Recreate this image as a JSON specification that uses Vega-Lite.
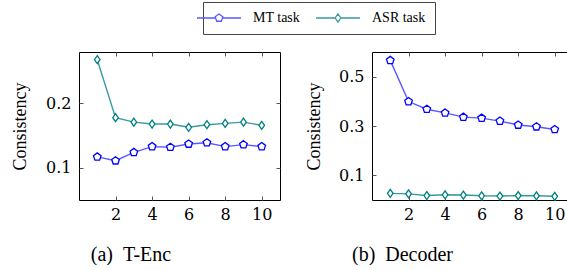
{
  "$schema": "https://vega.github.io/schema/vega-lite/v6.json",
  "background": "white",
  "padding": {"top": 1, "left": 11, "right": 0, "bottom": 0},
  "datasets": {
    "tenc": [
      {"series": "MT task", "layer": 1, "value": 0.117},
      {"series": "MT task", "layer": 2, "value": 0.111},
      {"series": "MT task", "layer": 3, "value": 0.124},
      {"series": "MT task", "layer": 4, "value": 0.133},
      {"series": "MT task", "layer": 5, "value": 0.132},
      {"series": "MT task", "layer": 6, "value": 0.137},
      {"series": "MT task", "layer": 7, "value": 0.139},
      {"series": "MT task", "layer": 8, "value": 0.133},
      {"series": "MT task", "layer": 9, "value": 0.136},
      {"series": "MT task", "layer": 10, "value": 0.133},
      {"series": "ASR task", "layer": 1, "value": 0.268},
      {"series": "ASR task", "layer": 2, "value": 0.178},
      {"series": "ASR task", "layer": 3, "value": 0.171},
      {"series": "ASR task", "layer": 4, "value": 0.168},
      {"series": "ASR task", "layer": 5, "value": 0.168},
      {"series": "ASR task", "layer": 6, "value": 0.163},
      {"series": "ASR task", "layer": 7, "value": 0.167},
      {"series": "ASR task", "layer": 8, "value": 0.169},
      {"series": "ASR task", "layer": 9, "value": 0.171},
      {"series": "ASR task", "layer": 10, "value": 0.166}
    ],
    "dec": [
      {"series": "MT task", "layer": 1, "value": 0.566},
      {"series": "MT task", "layer": 2, "value": 0.399},
      {"series": "MT task", "layer": 3, "value": 0.368},
      {"series": "MT task", "layer": 4, "value": 0.353},
      {"series": "MT task", "layer": 5, "value": 0.336},
      {"series": "MT task", "layer": 6, "value": 0.332},
      {"series": "MT task", "layer": 7, "value": 0.320},
      {"series": "MT task", "layer": 8, "value": 0.304},
      {"series": "MT task", "layer": 9, "value": 0.297},
      {"series": "MT task", "layer": 10, "value": 0.286},
      {"series": "ASR task", "layer": 1, "value": 0.027},
      {"series": "ASR task", "layer": 2, "value": 0.025},
      {"series": "ASR task", "layer": 3, "value": 0.018},
      {"series": "ASR task", "layer": 4, "value": 0.021},
      {"series": "ASR task", "layer": 5, "value": 0.020},
      {"series": "ASR task", "layer": 6, "value": 0.017},
      {"series": "ASR task", "layer": 7, "value": 0.016},
      {"series": "ASR task", "layer": 8, "value": 0.018},
      {"series": "ASR task", "layer": 9, "value": 0.017},
      {"series": "ASR task", "layer": 10, "value": 0.015}
    ]
  },
  "spacing": 24,
  "config": {
    "font": "'Liberation Serif', 'Times New Roman', serif",
    "view": {"stroke": "black", "strokeWidth": 1},
    "axis": {
      "labelFont": "'DejaVu Serif', serif",
      "labelFontSize": 16,
      "labelColor": "black",
      "titleFont": "'Liberation Serif', 'Times New Roman', serif",
      "titleFontWeight": "normal",
      "titleColor": "black",
      "gridColor": "#b8b8b8",
      "gridDash": [5, 4],
      "gridWidth": 1,
      "tickColor": "#555555",
      "tickSize": -4,
      "domain": false
    },
    "legend": {
      "labelFont": "'Liberation Serif', 'Times New Roman', serif"
    }
  },
  "hconcat": [
    {
      "width": 201,
      "height": 148,
      "data": {"name": "tenc"},
      "resolve": {"axis": {"x": "independent", "y": "independent"}},
      "layer": [
        {
          "mark": {"type": "line", "strokeWidth": 1.4},
          "encoding": {
            "x": {"field": "layer", "type": "quantitative",
              "scale": {"domain": [0, 11], "nice": false, "zero": false},
              "axis": {"orient": "top", "values": [2, 4, 6, 8, 10], "labels": false, "grid": false, "title": null}},
            "y": {"field": "value", "type": "quantitative",
              "scale": {"domain": [0.05, 0.28], "nice": false, "zero": false},
              "axis": {"orient": "right", "values": [0.1, 0.2], "labels": false, "grid": false, "title": null}},
            "color": {"field": "series", "type": "nominal",
              "scale": {"domain": ["MT task", "ASR task"], "range": ["#5a5aff", "#3a9a9a"]},
              "legend": {
                "title": null, "orient": "none", "legendX": 124, "legendY": -50,
                "direction": "horizontal", "strokeColor": "#444444", "padding": 9,
                "labelFontSize": 14, "labelColor": "black",
                "labelOffset": 27, "columnPadding": 12, "symbolSize": 64, "symbolStrokeWidth": 1.3,
                "encode": {"symbols": {"update": {
                  "shape": {"signal": "datum.value === 'MT task' ? 'M-5.5,0L-0.95,0M0.95,0L5.5,0M0,-1L0.951,-0.309L0.588,0.809L-0.588,0.809L-0.951,-0.309Z' : 'M-5.5,0L-0.7,0M0.7,0L5.5,0M0,-1L0.7,0L0,1L-0.7,0Z'"},
                  "fill": {"value": "white"}
                }}}
              }}
          }
        },
        {
          "transform": [{"filter": "datum.series === 'MT task'"}],
          "mark": {"type": "point", "filled": true, "fill": "white", "stroke": "#0000ff", "strokeWidth": 1.3, "size": 64, "opacity": 1,
            "shape": "M0,-1L0.951,-0.309L0.588,0.809L-0.588,0.809L-0.951,-0.309Z"},
          "encoding": {
            "x": {"field": "layer", "type": "quantitative",
              "axis": {"orient": "bottom", "values": [2, 4, 6, 8, 10], "labelPadding": 10.5,
                "title": "(a)\u2002T-Enc", "titleFontSize": 20,
                "titleX": 51.5, "titleY": 60, "titleAlign": "center", "titleBaseline": "alphabetic"}},
            "y": {"field": "value", "type": "quantitative",
              "axis": {"orient": "left", "values": [0.1, 0.2], "format": ".1f", "labelPadding": 12,
                "title": "Consistency", "titleFontSize": 18, "titleX": -58.5, "titleY": 74,
                "titleAngle": 270, "titleAlign": "center", "titleBaseline": "middle"}}
          }
        },
        {
          "transform": [{"filter": "datum.series === 'ASR task'"}],
          "mark": {"type": "point", "filled": true, "fill": "white", "stroke": "#008080", "strokeWidth": 1.3, "size": 64, "opacity": 1,
            "shape": "M0,-1L0.7,0L0,1L-0.7,0Z"},
          "encoding": {
            "x": {"field": "layer", "type": "quantitative", "axis": null},
            "y": {"field": "value", "type": "quantitative", "axis": null}
          }
        }
      ]
    },
    {
      "width": 201,
      "height": 148,
      "data": {"name": "dec"},
      "resolve": {"axis": {"x": "independent", "y": "independent"}},
      "layer": [
        {
          "mark": {"type": "line", "strokeWidth": 1.4},
          "encoding": {
            "x": {"field": "layer", "type": "quantitative",
              "scale": {"domain": [0, 11], "nice": false, "zero": false},
              "axis": {"orient": "top", "values": [2, 4, 6, 8, 10], "labels": false, "grid": false, "title": null}},
            "y": {"field": "value", "type": "quantitative",
              "scale": {"domain": [0, 0.6], "nice": false, "zero": false},
              "axis": {"orient": "right", "values": [0.1, 0.3, 0.5], "labels": false, "grid": false, "title": null}},
            "color": {"field": "series", "type": "nominal",
              "scale": {"domain": ["MT task", "ASR task"], "range": ["#5a5aff", "#3a9a9a"]},
              "legend": {
                "title": null, "orient": "none", "legendX": 124, "legendY": -50,
                "direction": "horizontal", "strokeColor": "#444444", "padding": 9,
                "labelFontSize": 14, "labelColor": "black",
                "labelOffset": 27, "columnPadding": 12, "symbolSize": 64, "symbolStrokeWidth": 1.3,
                "encode": {"symbols": {"update": {
                  "shape": {"signal": "datum.value === 'MT task' ? 'M-5.5,0L-0.95,0M0.95,0L5.5,0M0,-1L0.951,-0.309L0.588,0.809L-0.588,0.809L-0.951,-0.309Z' : 'M-5.5,0L-0.7,0M0.7,0L5.5,0M0,-1L0.7,0L0,1L-0.7,0Z'"},
                  "fill": {"value": "white"}
                }}}
              }}
          }
        },
        {
          "transform": [{"filter": "datum.series === 'MT task'"}],
          "mark": {"type": "point", "filled": true, "fill": "white", "stroke": "#0000ff", "strokeWidth": 1.3, "size": 64, "opacity": 1,
            "shape": "M0,-1L0.951,-0.309L0.588,0.809L-0.588,0.809L-0.951,-0.309Z"},
          "encoding": {
            "x": {"field": "layer", "type": "quantitative",
              "axis": {"orient": "bottom", "values": [2, 4, 6, 8, 10], "labelPadding": 10.5,
                "title": "(b)\u2002Decoder", "titleFontSize": 20,
                "titleX": 30, "titleY": 60, "titleAlign": "center", "titleBaseline": "alphabetic"}},
            "y": {"field": "value", "type": "quantitative",
              "axis": {"orient": "left", "values": [0.1, 0.3, 0.5], "format": ".1f", "labelPadding": 12,
                "title": "Consistency", "titleFontSize": 18, "titleX": -57.5, "titleY": 74,
                "titleAngle": 270, "titleAlign": "center", "titleBaseline": "middle"}}
          }
        },
        {
          "transform": [{"filter": "datum.series === 'ASR task'"}],
          "mark": {"type": "point", "filled": true, "fill": "white", "stroke": "#008080", "strokeWidth": 1.3, "size": 64, "opacity": 1,
            "shape": "M0,-1L0.7,0L0,1L-0.7,0Z"},
          "encoding": {
            "x": {"field": "layer", "type": "quantitative", "axis": null},
            "y": {"field": "value", "type": "quantitative", "axis": null}
          }
        }
      ]
    }
  ]
}
